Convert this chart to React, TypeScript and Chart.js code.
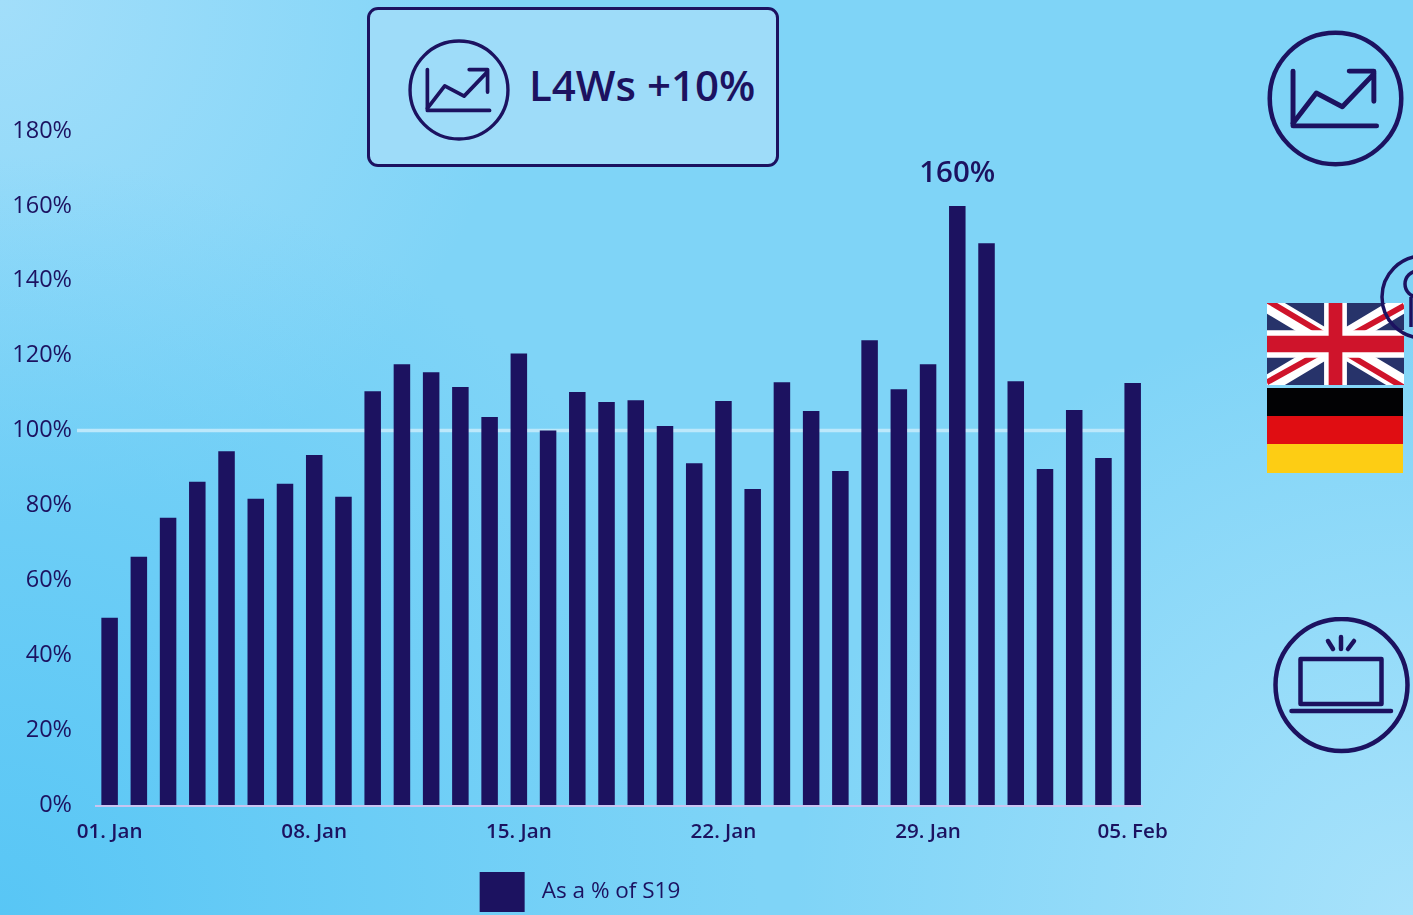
import React, { useEffect, useRef } from "react";
import { Chart, registerables } from "chart.js";

Chart.register(...registerables);

const categories = [
  "01. Jan","02. Jan","03. Jan","04. Jan","05. Jan","06. Jan","07. Jan","08. Jan","09. Jan","10. Jan",
  "11. Jan","12. Jan","13. Jan","14. Jan","15. Jan","16. Jan","17. Jan","18. Jan","19. Jan","20. Jan",
  "21. Jan","22. Jan","23. Jan","24. Jan","25. Jan","26. Jan","27. Jan","28. Jan","29. Jan","30. Jan",
  "31. Jan","01. Feb","02. Feb","03. Feb","04. Feb","05. Feb",
];
const shownTickIndexes = [0, 7, 14, 21, 28, 35];
const pctOfS19 = [
  50, 66.3, 76.7, 86.3, 94.5, 81.8, 85.8, 93.5, 82.3, 110.5, 117.7, 115.6,
  111.6, 103.6, 120.6, 100, 110.3, 107.6, 108.1, 101.2, 91.3, 107.9, 84.4, 112.9,
  105.2, 89.2, 124.1, 111, 117.7, 160, 150, 113.2, 89.7, 105.5, 92.7, 112.7,
];
const seriesName = "As a % of S19";
const peakIndex = 29;
const peakLabel = "160%";
const referenceValue = 100;
const calloutText = "L4Ws +10%";

const NAVY = "#1c1260";
const FONT = "'Open Sans', 'Noto Sans', sans-serif";

const linesPlugin = {
  id: "refLines",
  beforeDatasetsDraw(chart: any) {
    const { ctx, scales } = chart;
    const y100 = scales.y.getPixelForValue(referenceValue);
    const y0 = scales.y.getPixelForValue(0);
    ctx.save();
    ctx.lineWidth = 3.5;
    ctx.strokeStyle = "#bce8fb";
    ctx.beginPath();
    ctx.moveTo(77, y100);
    ctx.lineTo(1125, y100);
    ctx.stroke();
    ctx.lineWidth = 2;
    ctx.strokeStyle = "#c9c4f0";
    ctx.beginPath();
    ctx.moveTo(95, y0 + 1);
    ctx.lineTo(1143, y0 + 1);
    ctx.stroke();
    ctx.restore();
  },
  afterDatasetsDraw(chart: any) {
    const { ctx } = chart;
    const bar = chart.getDatasetMeta(0).data[peakIndex];
    ctx.save();
    ctx.fillStyle = NAVY;
    ctx.font = `600 29.5px ${FONT}`;
    ctx.textAlign = "center";
    ctx.textBaseline = "alphabetic";
    ctx.fillText(peakLabel, bar.x, bar.y - 24);
    ctx.restore();
  },
};

function ChartCanvas() {
  const ref = useRef<HTMLCanvasElement>(null);
  useEffect(() => {
    const chart = new Chart(ref.current as HTMLCanvasElement, {
      type: "bar",
      data: {
        labels: categories,
        datasets: [
          {
            label: seriesName,
            data: pctOfS19,
            backgroundColor: NAVY,
            borderWidth: 0,
            barPercentage: 1,
            categoryPercentage: 0.565,
          },
        ],
      },
      options: {
        responsive: false,
        animation: false,
        layout: { padding: { top: 131, right: 16, bottom: 2, left: 1 } },
        plugins: {
          tooltip: { enabled: false },
          legend: {
            position: "bottom",
            labels: {
              boxWidth: 45,
              boxHeight: 40,
              padding: 0,
              color: NAVY,
              font: { family: FONT, size: 22.5, weight: "400" },
              generateLabels: (c: any) =>
                Chart.defaults.plugins.legend.labels
                  .generateLabels(c)
                  .map((l: any) => ({ ...l, text: "\u00A0" + l.text })),
            },
          },
        },
        scales: {
          x: {
            grid: { display: false },
            border: { display: false },
            ticks: {
              autoSkip: false,
              maxRotation: 0,
              minRotation: 0,
              padding: 7,
              color: NAVY,
              font: { family: FONT, size: 20.6, weight: "600" },
              callback: (_v: any, i: number) =>
                shownTickIndexes.includes(i) ? categories[i] : "",
            },
            afterFit: (s: any) => {
              s.height = 67;
            },
          },
          y: {
            min: 0,
            max: 180,
            grid: { display: false },
            border: { display: false },
            ticks: {
              stepSize: 20,
              padding: 15,
              color: NAVY,
              font: { family: FONT, size: 23.5, weight: "400" },
              callback: (v: any) => `${v}%`,
            },
            afterFit: (s: any) => {
              s.width = 94;
            },
          },
        },
      },
      plugins: [linesPlugin],
    } as any);
    return () => chart.destroy();
  }, []);
  return (
    <canvas
      ref={ref}
      width={1175}
      height={924}
      style={{ position: "absolute", left: 0, top: 0, width: 1175, height: 924 }}
    />
  );
}

function ChartIcon({ x, y, size }: { x: number; y: number; size: number }) {
  return (
    <svg
      viewBox="0 0 100 100"
      width={size}
      height={size}
      style={{ position: "absolute", left: x, top: y }}
      fill="none"
      stroke={NAVY}
      strokeWidth={3.3}
      strokeLinecap="round"
      strokeLinejoin="round"
    >
      <circle cx="50" cy="50" r="48" />
      <path d="M19 30 V70 H80" strokeWidth={3.6} />
      <path d="M19 68 L36 46 L55 56 L78 32 M60 30 H78 V52" strokeWidth={3.6} />
    </svg>
  );
}

export default function App() {
  return (
    <div
      style={{
        position: "fixed",
        left: 0,
        top: 0,
        width: 1413,
        height: 915,
        overflow: "hidden",
        background:
          "radial-gradient(circle at 0% 100%, #58c6f5 0, rgba(88,198,245,0) 760px), radial-gradient(circle at 100% 100%, #a8e2fb 0, rgba(168,226,251,0) 620px), radial-gradient(circle at 0% 0%, #a2defa 0, rgba(162,222,250,0) 520px), #7fd4f7",
      }}
    >
      <ChartCanvas />
      <div
        style={{
          position: "absolute",
          left: 367,
          top: 7,
          width: 412,
          height: 160,
          boxSizing: "border-box",
          border: `3.5px solid ${NAVY}`,
          borderRadius: 11,
          background: "#9edcf9",
        }}
      />
      <ChartIcon x={408} y={39} size={102} />
      <div
        style={{
          position: "absolute",
          left: 529,
          top: 55,
          fontFamily: FONT,
          fontWeight: 600,
          fontSize: 42,
          lineHeight: "60px",
          color: NAVY,
          whiteSpace: "nowrap",
        }}
      >
        {calloutText}
      </div>
      <ChartIcon x={1267} y={30} size={137} />
      <svg
        viewBox="0 0 60 30"
        preserveAspectRatio="none"
        width={137}
        height={82}
        style={{ position: "absolute", left: 1267, top: 303 }}
      >
        <rect width="60" height="30" fill="#27336a" />
        <path d="M0 0 L60 30 M60 0 L0 30" stroke="#fff" strokeWidth="7" />
        <path d="M0 -1 L28 13 M60 1 L32 14 M60 31 L32 17 M0 29 L28 16" stroke="#cf142b" strokeWidth="2.2" />
        <path d="M30 0 V30 M0 15 H60" stroke="#fff" strokeWidth="10" />
        <path d="M30 0 V30 M0 15 H60" stroke="#cf142b" strokeWidth="6" />
      </svg>
      <svg width={136} height={85} style={{ position: "absolute", left: 1267, top: 388 }}>
        <rect width="136" height="28" fill="#020204" />
        <rect y="28" width="136" height="28" fill="#e00d12" />
        <rect y="56" width="136" height="29" fill="#fdcd14" />
      </svg>
      <svg
        width={33}
        height={100}
        style={{ position: "absolute", left: 1380, top: 247 }}
        fill="none"
        stroke={NAVY}
        strokeWidth={3.5}
      >
        <circle cx="43" cy="50" r="41" />
        <circle cx="38" cy="37" r="13" />
        <path d="M31 50 V80" />
      </svg>
      <svg
        viewBox="0 0 137 137"
        width={137}
        height={137}
        style={{ position: "absolute", left: 1273, top: 617 }}
        fill="none"
        stroke={NAVY}
        strokeWidth={4.5}
        strokeLinecap="round"
        strokeLinejoin="round"
      >
        <circle cx="68.5" cy="68" r="66" />
        <rect x="27.5" y="42" width="81" height="45" />
        <path d="M18.5 94 H118" />
        <path d="M68 20 V32 M55 24 L60 32 M81 24 L75 32" />
      </svg>
    </div>
  );
}
